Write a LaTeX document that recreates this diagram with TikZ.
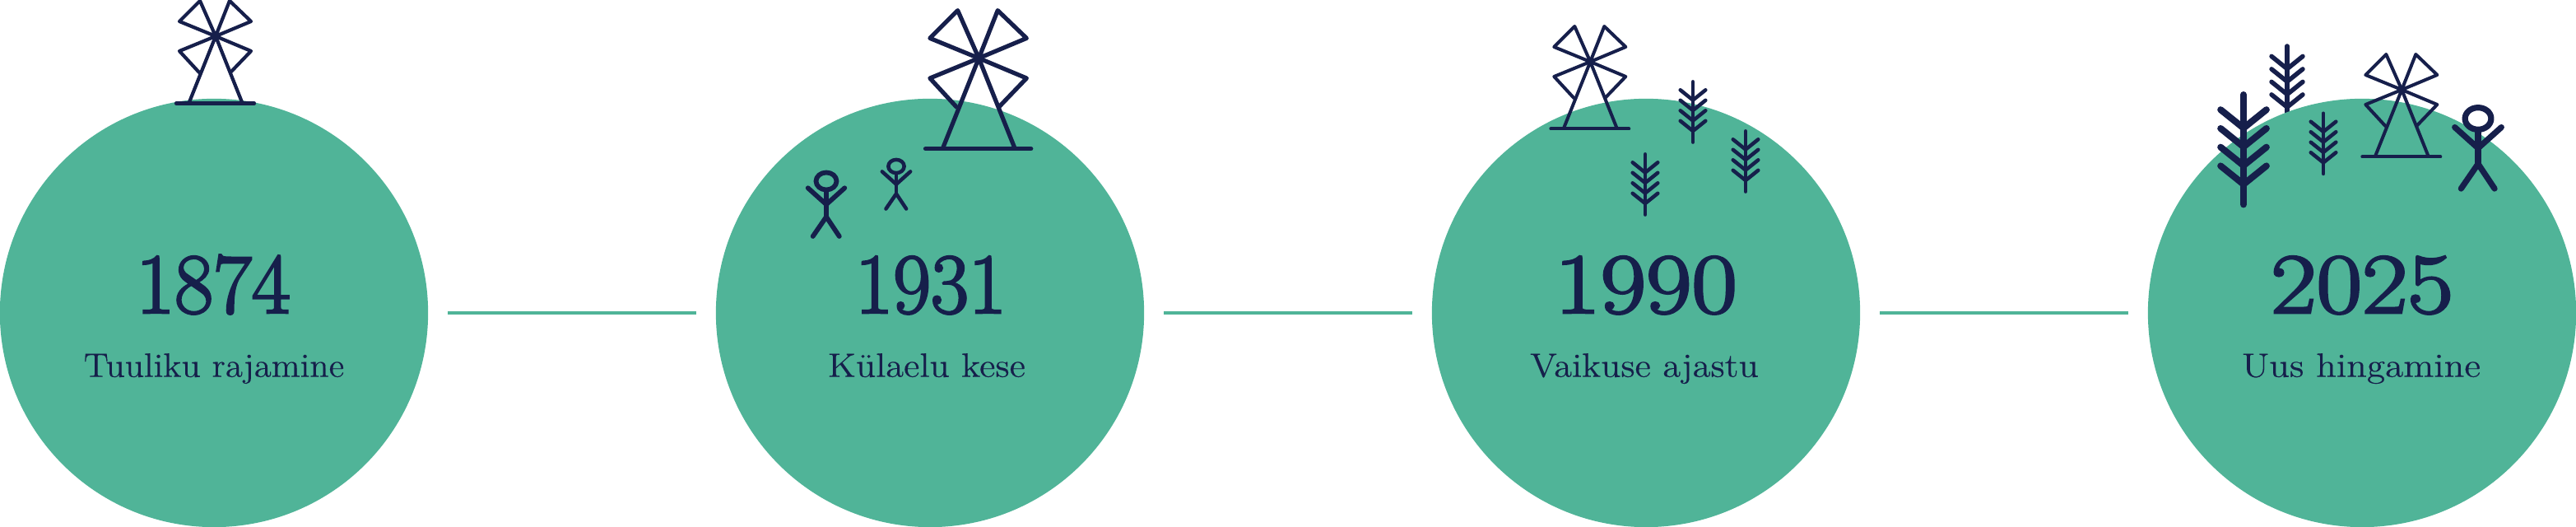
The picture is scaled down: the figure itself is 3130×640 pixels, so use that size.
\documentclass[tikz,border=0pt]{standalone}
\usepackage{fontspec}
\newfontfamily\yearfont[FakeBold=2.6]{Latin Modern Roman}
\newfontfamily\capfont[FakeStretch=1.04,FakeBold=0.3]{Latin Modern Roman}
\definecolor{navy}{RGB}{22,31,75}
\definecolor{leaf}{RGB}{80,180,152}
\tikzset{
  ink/.style={draw=navy,line cap=round,line join=round},
  disc/.style={circle,fill=leaf,draw=none,minimum size=5.2cm,inner sep=0pt,outer sep=0pt},
  yearlabel/.style={anchor=base,text=navy,inner sep=0pt,font=\yearfont\fontsize{29.6}{30}\selectfont},
  caplabel/.style={anchor=base,text=navy,inner sep=0pt,font=\capfont\fontsize{11.7}{12}\selectfont},
  conn/.style={draw=leaf,line width=0.4mm,shorten >=0.24cm,shorten <=0.24cm},
}
% x, y, scale, line width
\newcommand{\windmill}[4]{\begin{scope}[shift={(#1,#2)},x=#3*0.01cm,y=-#3*0.01cm,ink,line width=#4mm]
  \draw (0,0)--(-19,-43)--(-44,-18)--cycle;
  \draw (0,0)--(17,-43)--(43,-18)--cycle;
  \draw (0,0)--(-44,18)--(-20,44);
  \draw (0,0)--(43,18)--(18,44);
  \draw (-32,80)--(0,0)--(32,80);
  \draw (-48,81.5)--(47,81.5);
\end{scope}}
% stem x, top y, scale, line width
\newcommand{\spruce}[4]{\begin{scope}[shift={(#1,#2)},x=#3*0.01cm,y=-#3*0.01cm,ink,line width=#4mm]
  \draw (0,0)--(0,73.3);
  \foreach \b in {10,22.5,35,47.5}{\draw (-15.3,\b)--(0,\b+12.3)--(15.3,\b);}
\end{scope}}
% head x, head y, scale, line width
\newcommand{\figureman}[4]{\begin{scope}[shift={(#1,#2)},x=#3*0.01cm,y=-#3*0.01cm,ink,line width=#4mm]
  \draw (0,0) ellipse [x radius=12.5,y radius=10.5];
  \draw (0,11)--(0,43.3);
  \draw (-22.3,8.3)--(0,28.3)--(22.3,8.3);
  \draw (-16.3,67)--(0,43.3)--(15.8,67);
\end{scope}}
\begin{document}
\begin{tikzpicture}[x=0.01cm,y=-0.01cm]
\useasboundingbox (0,0) rectangle (3130,640);
\spruce{2779}{56}{1.24}{0.55}
\node[disc] (c1) at (260,380) {};
\node[disc] (c2) at (1130,380) {};
\node[disc] (c3) at (2000,380) {};
\node[disc] (c4) at (2870,380) {};
\path[conn] (c1) -- (c2);
\path[conn] (c2) -- (c3);
\path[conn] (c3) -- (c4);
\node[yearlabel] (y1) at (259,380) {\scalebox{0.98}[1]{1874}};
\node[yearlabel] (y2) at (1131,380) {\scalebox{0.96}[1]{1931}};
\node[yearlabel] (y3) at (2000,380) {\scalebox{1.16}[1]{1990}};
\node[yearlabel] (y4) at (2870,380) {\scalebox{1.16}[1]{2025}};
\node[caplabel] (t1) at (260,457.7) {Tuuliku rajamine};
\node[caplabel] (t2) at (1126,457.7) {\scalebox{1.04}[1]{Külaelu kese}};
\node[caplabel] (t3) at (1998,457.7) {\scalebox{1.04}[1]{Vaikuse ajastu}};
\node[caplabel] (t4) at (2869,457.7) {\scalebox{1.06}[1]{Uus hingamine}};
\windmill{262}{44}{1}{0.42}
\windmill{1189.3}{70.7}{1.35}{0.52}
\windmill{1932.3}{75}{1}{0.4}
\windmill{2918.3}{109}{1}{0.4}
\figureman{1004}{220}{1}{0.58}
\figureman{1089}{202}{0.77}{0.45}
\figureman{3011}{144}{1.27}{0.72}
\spruce{2057}{99.3}{1}{0.45}
\spruce{2121}{159.3}{1}{0.45}
\spruce{1999}{187.3}{1}{0.45}
\spruce{2823}{137.7}{1}{0.45}
\spruce{2726}{115}{1.82}{0.8}
\end{tikzpicture}
\end{document}
